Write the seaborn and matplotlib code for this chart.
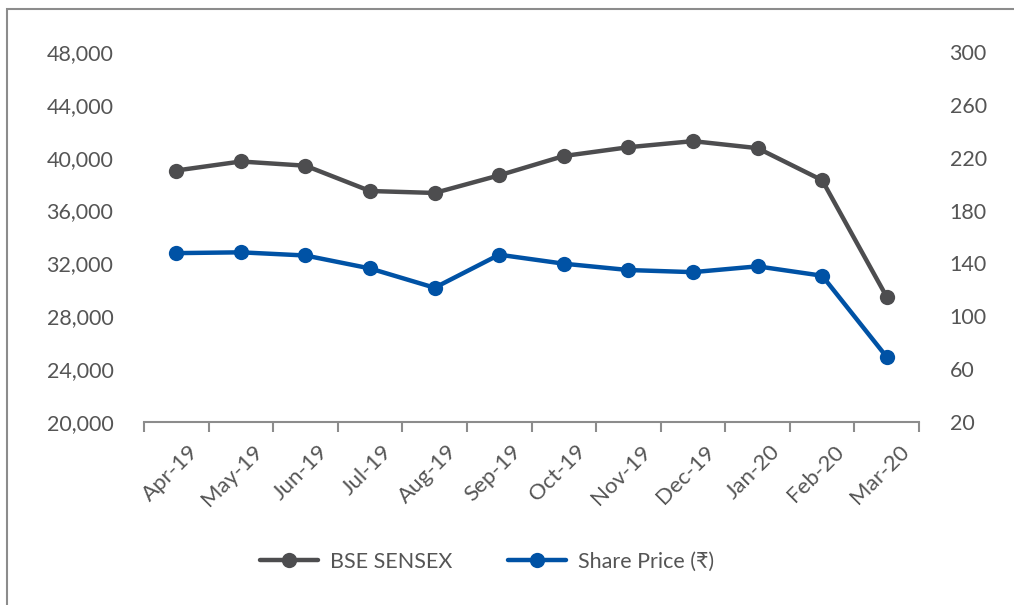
import pandas as pd
import matplotlib.pyplot as plt
import matplotlib.transforms as mtransforms
from matplotlib.lines import Line2D
from matplotlib.patches import Rectangle
from matplotlib.ticker import FuncFormatter, FixedLocator
import seaborn as sns

months = ['Apr-19', 'May-19', 'Jun-19', 'Jul-19', 'Aug-19', 'Sep-19',
          'Oct-19', 'Nov-19', 'Dec-19', 'Jan-20', 'Feb-20', 'Mar-20']
sensex = [39032, 39714, 39395, 37481, 37333, 38667,
          40129, 40794, 41254, 40723, 38297, 29468]
share_price = [147.8, 148.4, 146.0, 136.2, 121.6, 146.6,
               139.8, 135.0, 133.4, 137.8, 130.7, 69.2]
left_ticks = [20000, 24000, 28000, 32000, 36000, 40000, 44000, 48000]
right_ticks = [20, 60, 100, 140, 180, 220, 260, 300]

GREY = '#4d4d4f'
BLUE = '#0052a5'
TEXT = '#555555'
AXIS = '#8c8c8c'
FS = 15.5

df = pd.DataFrame({'Month': months, 'pos': range(len(months)),
                   'BSE SENSEX': sensex, 'Share Price': share_price})

sns.set_theme(style='white')
plt.rcParams['font.family'] = ['Lato', 'DejaVu Sans']

W, H = 1014, 605
fig = plt.figure(figsize=(W / 100, H / 100), dpi=100)
ax = fig.add_axes([144 / W, (H - 422) / H, 775 / W, 370 / H])
ax2 = ax.twinx()

sns.lineplot(data=df, x='pos', y='BSE SENSEX', ax=ax, color=GREY, lw=3.2,
             marker='o', markersize=11, markeredgewidth=0, sort=False)
sns.lineplot(data=df, x='pos', y='Share Price', ax=ax2, color=BLUE, lw=3.2,
             marker='o', markersize=11, markeredgewidth=0, sort=False)

ax.set_ylim(20000, 48000)
ax2.set_ylim(20, 300)
ax.set_xlim(-0.5, len(months) - 0.5)
ax.set_yticks(left_ticks)
ax2.set_yticks(right_ticks)
ax.yaxis.set_major_formatter(FuncFormatter(lambda v, p: f'{int(v):,}'))

for a in (ax, ax2):
    for s in a.spines.values():
        s.set_visible(False)
    a.set_xlabel('')
    a.set_ylabel('')
    a.tick_params(axis='y', length=0, labelsize=FS, labelcolor=TEXT)
ax.tick_params(axis='y', pad=22)
ax2.tick_params(axis='y', pad=22)
ax.spines['bottom'].set_visible(True)
ax.spines['bottom'].set_color(AXIS)
ax.spines['bottom'].set_linewidth(1.5)

# category boundaries as ticks, month names centred between them
ax.xaxis.set_major_locator(FixedLocator([i - 0.5 for i in range(len(months) + 1)]))
ax.xaxis.set_minor_locator(FixedLocator(list(range(len(months)))))
ax.xaxis.set_major_formatter(FuncFormatter(lambda v, p: ''))
ax.set_xticklabels(months, minor=True)
ax.tick_params(axis='x', which='major', direction='out', length=7, width=1.5,
               color=AXIS, bottom=True)
ax.tick_params(axis='x', which='minor', length=0, pad=19, labelsize=FS + 0.5,
               labelcolor=TEXT)
shift = mtransforms.ScaledTranslation(19 / 100, 0, fig.dpi_scale_trans)
for lab in ax.get_xticklabels(minor=True):
    lab.set_rotation(45)
    lab.set_rotation_mode('anchor')
    lab.set_ha('right')
    lab.set_va('center')
    lab.set_transform(lab.get_transform() + shift)

handles = [Line2D([], [], color=GREY, lw=3.2, marker='o', markersize=11, markeredgewidth=0),
           Line2D([], [], color=BLUE, lw=3.2, marker='o', markersize=11, markeredgewidth=0)]
leg = fig.legend(handles, ['BSE SENSEX', 'Share Price (₹)'], loc='center',
                 bbox_to_anchor=(487 / W, 1 - 562 / H), ncol=2, frameon=False,
                 fontsize=FS, handlelength=2.7, columnspacing=2.6, handletextpad=0.55)
for t in leg.get_texts():
    t.set_color(TEXT)

fig.patches.append(Rectangle((7 / W, -0.1), 1.2, 1 - 9 / H + 0.1, transform=fig.transFigure,
                             fill=False, edgecolor='#8c8c8c', lw=1.5))

fig.savefig('out.png', dpi=100)
